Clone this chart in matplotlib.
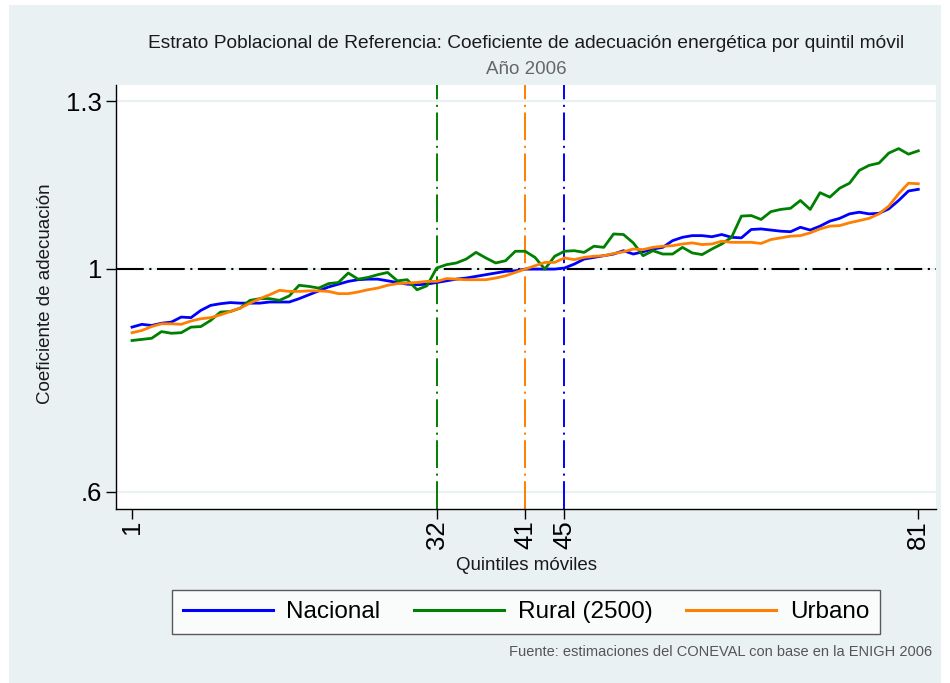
import matplotlib
matplotlib.use("Agg")
import matplotlib.pyplot as plt
from matplotlib.patches import Rectangle
import numpy as np

plt.rcParams['font.family'] = ['Liberation Sans', 'DejaVu Sans']
plt.rcParams['lines.scale_dashes'] = False

quintiles = list(range(1, 82))

nacional = [0.895, 0.900, 0.898, 0.902, 0.904, 0.913, 0.912, 0.925, 0.934, 0.937,
            0.939, 0.938, 0.938, 0.938, 0.940, 0.940, 0.940, 0.946, 0.953, 0.960,
            0.967, 0.972, 0.977, 0.980, 0.981, 0.981, 0.978, 0.975, 0.972, 0.971,
            0.972, 0.975, 0.978, 0.981, 0.983, 0.986, 0.989, 0.992, 0.995, 0.996,
            0.999, 0.999, 0.999, 0.999, 1.001, 1.008, 1.017, 1.020, 1.023, 1.026,
            1.032, 1.026, 1.030, 1.035, 1.038, 1.050, 1.056, 1.059, 1.059, 1.057,
            1.061, 1.056, 1.055, 1.070, 1.071, 1.069, 1.067, 1.066, 1.074, 1.069,
            1.076, 1.085, 1.090, 1.098, 1.101, 1.098, 1.099, 1.107, 1.122, 1.139,
            1.142]

rural = [0.871, 0.873, 0.875, 0.887, 0.884, 0.885, 0.895, 0.896, 0.907, 0.922,
         0.923, 0.929, 0.943, 0.946, 0.946, 0.943, 0.951, 0.970, 0.968, 0.965,
         0.973, 0.975, 0.992, 0.981, 0.984, 0.989, 0.993, 0.978, 0.980, 0.962,
         0.969, 1.001, 1.007, 1.010, 1.017, 1.029, 1.019, 1.010, 1.014, 1.031,
         1.031, 1.020, 0.999, 1.022, 1.031, 1.032, 1.029, 1.040, 1.038, 1.062,
         1.061, 1.046, 1.023, 1.032, 1.026, 1.026, 1.038, 1.028, 1.025, 1.035,
         1.044, 1.056, 1.094, 1.095, 1.088, 1.102, 1.106, 1.108, 1.122, 1.106,
         1.136, 1.128, 1.144, 1.153, 1.176, 1.185, 1.189, 1.207, 1.215, 1.205,
         1.211]

urbano = [0.885, 0.889, 0.896, 0.901, 0.901, 0.900, 0.906, 0.910, 0.912, 0.917,
          0.923, 0.929, 0.938, 0.946, 0.953, 0.961, 0.959, 0.959, 0.960, 0.960,
          0.959, 0.955, 0.955, 0.958, 0.962, 0.965, 0.970, 0.973, 0.974, 0.975,
          0.977, 0.977, 0.982, 0.981, 0.980, 0.980, 0.980, 0.983, 0.987, 0.993,
          0.999, 1.005, 1.011, 1.011, 1.019, 1.016, 1.020, 1.022, 1.023, 1.027,
          1.030, 1.035, 1.034, 1.038, 1.040, 1.041, 1.044, 1.046, 1.043, 1.044,
          1.049, 1.047, 1.047, 1.047, 1.045, 1.052, 1.055, 1.058, 1.059, 1.064,
          1.071, 1.076, 1.077, 1.082, 1.086, 1.090, 1.098, 1.112, 1.134, 1.153,
          1.152]

series_names = ["Nacional", "Rural (2500)", "Urbano"]
series_colors = ["#0000FF", "#008000", "#FF7F00"]
cutoffs = [45, 32, 41]  # Nacional, Rural, Urbano
xticks = [1, 32, 41, 45, 81]
yticks = [0.6, 1.0, 1.3]
yticklabels = [".6", "1", "1.3"]

title = "Estrato Poblacional de Referencia: Coeficiente de adecuación energética por quintil móvil"
subtitle = "Año 2006"
xlabel = "Quintiles móviles"
ylabel = "Coeficiente de adecuación"
note = "Fuente: estimaciones del CONEVAL con base en la ENIGH 2006"

BG = "#EAF1F3"
W, H = 950, 683
fig = plt.figure(figsize=(W / 100, H / 100), dpi=100)
fig.patch.set_facecolor("white")
fig.patches.append(Rectangle((9 / W, 0), (941 - 9) / W, (H - 5) / H,
                             transform=fig.transFigure, facecolor=BG,
                             edgecolor="none", zorder=-10))

L, R, T, B = 116, 936, 85, 509
ax = fig.add_axes([L / W, 1 - B / H, (R - L) / W, (B - T) / H])
ax.set_facecolor("white")
ax.set_xlim(-0.63, 82.8)
ax.set_ylim(0.569, 1.329)

for y in yticks:
    ax.axhline(y, color=BG, lw=1.6, zorder=0)

dashdot = (0, (20, 4, 1.5, 4))
ax.axhline(1.0, color="black", lw=1.5, linestyle=dashdot, zorder=1)
for c, col in zip(cutoffs, series_colors):
    ax.axvline(c, color=col, lw=1.4, linestyle=dashdot, zorder=1)

data = [nacional, rural, urbano]
for vals, name, col in zip(data, series_names, series_colors):
    ax.plot(quintiles, vals, color=col, lw=2.0, label=name, zorder=3)

for s in ["top", "right"]:
    ax.spines[s].set_visible(False)
for s in ["left", "bottom"]:
    ax.spines[s].set_color("black")
    ax.spines[s].set_linewidth(1.0)

ax.set_yticks(yticks)
ax.set_yticklabels(yticklabels, fontsize=18.5)
ax.set_xticks(xticks)
ax.set_xticklabels([str(v) for v in xticks], fontsize=18.5, rotation=90)
ax.tick_params(axis="both", direction="out", length=7, width=1, color="black")
ax.tick_params(axis="y", pad=3)
ax.tick_params(axis="x", pad=1)

cx = (L + R) / 2 / W
fig.text(46 / W, 1 - 294 / H, ylabel, ha="center", va="center", rotation=90,
         fontsize=13.5, color="#1a1a1a")
fig.text(cx, 1 - 566 / H, xlabel, ha="center", va="center", fontsize=13.5, color="#1a1a1a")
fig.text(cx, 1 - 44 / H, title, ha="center", va="center", fontsize=13.8, color="#1a1a1a")
fig.text(cx, 1 - 70 / H, subtitle, ha="center", va="center", fontsize=13.5, color="#666666")
fig.text(932 / W, 1 - 652 / H, note, ha="right", va="center", fontsize=10.5, color="#555555")

leg = fig.legend(loc="center", bbox_to_anchor=(526 / W, 1 - 612 / H), ncol=3,
                 fontsize=17.5, frameon=True, fancybox=False, handlelength=3.7,
                 columnspacing=1.4, handletextpad=0.55, borderpad=0.45,
                 borderaxespad=0)
leg.get_frame().set_edgecolor("#333333")
leg.get_frame().set_linewidth(1.0)
for line in leg.get_lines():
    line.set_linewidth(2.2)

fig.savefig("out.png", dpi=100, facecolor=fig.get_facecolor())
